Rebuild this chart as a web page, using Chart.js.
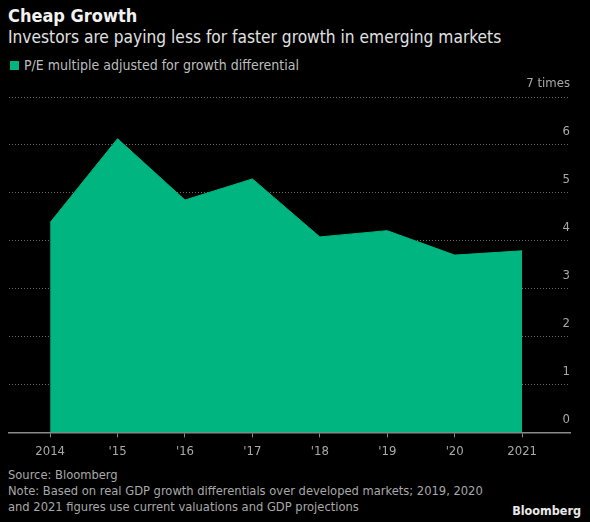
<!DOCTYPE html>
<html><head><meta charset="utf-8">
<script src="https://cdn.jsdelivr.net/npm/chart.js@4"></script>
<style>
html,body{margin:0;padding:0;background:#000;}
body{width:590px;height:522px;position:relative;overflow:hidden;font-family:"DejaVu Sans Condensed","Noto Sans",sans-serif;}
.t{position:absolute;white-space:nowrap;}
#title{left:8px;top:5px;font-size:18px;font-weight:bold;color:#f2f2f2;}
#sub{left:8px;top:27px;font-size:17.2px;color:#e0e0e0;}
#leg{left:10px;top:57px;font-size:14px;color:#bdbdbd;}
#leg span{display:inline-block;width:9px;height:9px;background:#00b580;margin-right:5px;vertical-align:0px;}
#src{left:8px;top:467px;font-size:12.8px;color:#a8a8a8;line-height:15.8px;}
#bb{right:9px;top:503px;font-size:12.5px;font-weight:bold;color:#e8e8e8;}
canvas{position:absolute;left:0;top:0;}
</style></head>
<body>
<div class="t" id="title">Cheap Growth</div>
<div class="t" id="sub">Investors are paying less for faster growth in emerging markets</div>
<div class="t" id="leg"><span></span>P/E multiple adjusted for growth differential</div>
<div class="t" id="src">Source: Bloomberg<br>Note: Based on real GDP growth differentials over developed markets; 2019, 2020<br>and 2021 figures use current valuations and GDP projections</div>
<div class="t" id="bb">Bloomberg</div>
<canvas id="c" width="590" height="522"></canvas>
<script>
const years = [2014, 2015, 2016, 2017, 2018, 2019, 2020, 2021];
const yearLabels = ['2014', "'15", "'16", "'17", "'18", "'19", "'20", '2021'];
const peAdjusted = [4.38, 6.13, 4.85, 5.29, 4.08, 4.21, 3.70, 3.79];
const yTicks = [0, 1, 2, 3, 4, 5, 6, 7];
const yTickLabels = ['0', '1', '2', '3', '4', '5', '6', '7 times'];

const green = '#00b580';
const fontFam = '"DejaVu Sans Condensed","Noto Sans",sans-serif';

new Chart(document.getElementById('c'), {
  type: 'line',
  data: {
    datasets: [{
      label: 'P/E multiple adjusted for growth differential',
      data: years.map((y, i) => ({x: y, y: peAdjusted[i]})),
      borderColor: green,
      backgroundColor: green,
      borderWidth: 1,
      fill: 'origin',
      pointRadius: 0,
      tension: 0
    }]
  },
  options: {
    responsive: false,
    animation: false,
    events: [],
    layout: {padding: {top: 97, left: 9, right: 20, bottom: 57}},
    plugins: {legend: {display: false}, tooltip: {enabled: false}},
    scales: {
      x: {
        type: 'linear',
        min: 2013.39,
        max: 2021.71,
        afterBuildTicks: s => { s.ticks = years.map(v => ({value: v})); },
        ticks: {
          autoSkip: false,
          maxRotation: 0,
          color: '#a8a8a8',
          font: {family: fontFam, size: 13},
          padding: 6,
          callback: v => { const i = years.indexOf(v); return i >= 0 ? yearLabels[i] : ''; }
        },
        grid: {drawOnChartArea: false, drawTicks: true, tickLength: 5, color: '#8a8a8a', lineWidth: 1},
        border: {display: true, color: '#8a8a8a', width: 1.5}
      },
      y: {
        position: 'right',
        min: 0,
        max: 7,
        afterBuildTicks: s => { s.ticks = yTicks.map(v => ({value: v})); },
        afterFit: s => { s.width = 0; },
        ticks: {
          mirror: true,
          padding: 0,
          labelOffset: -13,
          color: '#a8a8a8',
          font: {family: fontFam, size: 13},
          callback: v => { const i = yTicks.indexOf(v); return i >= 0 ? yTickLabels[i] : ''; }
        },
        grid: {
          drawTicks: false,
          color: ctx => ctx.tick && ctx.tick.value === 0 ? 'rgba(0,0,0,0)' : '#6a6a6a',
          lineWidth: 1
        },
        border: {display: false, dash: [1, 2]}
      }
    }
  }
});
</script>
</body></html>
